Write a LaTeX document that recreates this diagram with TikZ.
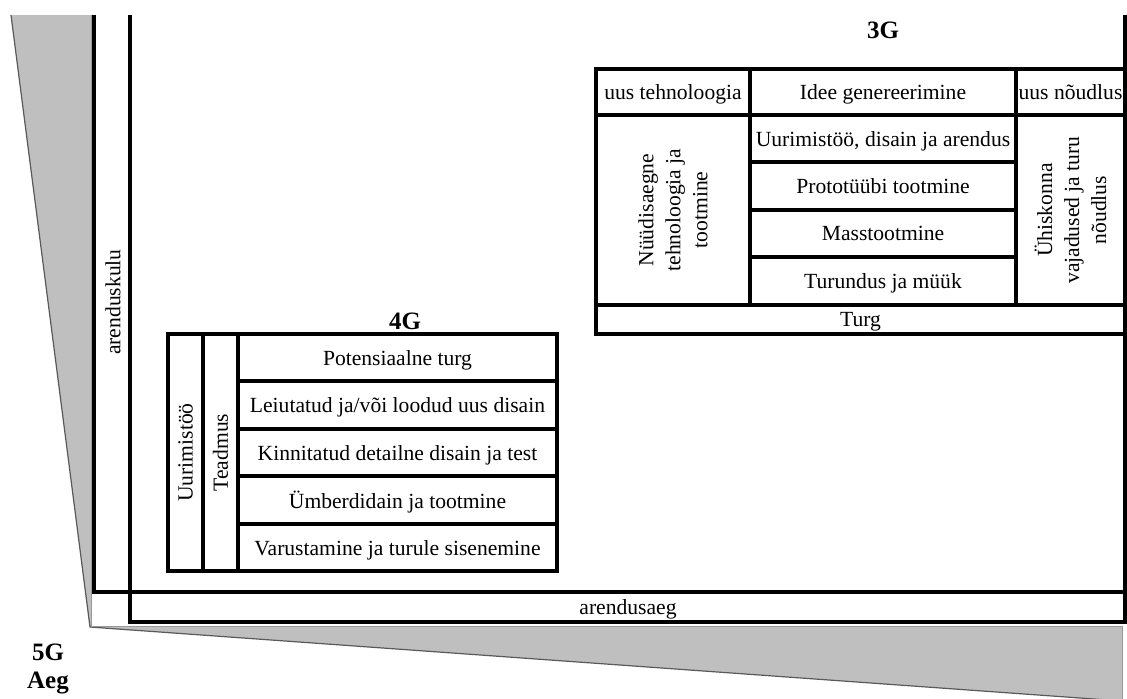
\documentclass[tikz,border=0pt]{standalone}
\usepackage{fontspec}
\setmainfont{Liberation Serif}

% a boxed cell given by its corners (x1,y1) and (x2,y2), text level
\newcommand\gridcell[6]{%
  \node[cellbox, text depth=0pt, minimum width={(#4-#2)*0.5pt}, minimum height={(#5-#3)*0.5pt}]
    (#1) at ({(#2+#4)/2},{(#3+#5)/2}) {#6};}
% the same, with the text turned to read upwards
\newcommand\gridvcell[6]{%
  \node[cellbox, rotate=90, minimum width={(#5-#3)*0.5pt}, minimum height={(#4-#2)*0.5pt}]
    (#1) at ({(#2+#4)/2},{(#3+#5)/2}) {#6};}

\begin{document}
\begin{tikzpicture}[x=0.5pt,y=-0.5pt,
  rule/.style={line width=2pt, line join=miter},
  cellbox/.style={draw, line width=2pt, inner sep=0pt, align=center,
    font=\fontsize{10.8}{13.5}\selectfont},
  gen/.style={inner sep=0pt, font=\fontsize{12.5}{14}\selectfont\bfseries},
  lbl/.style={inner sep=0pt, font=\fontsize{10.8}{13.5}\selectfont}]
\useasboundingbox (0,0) rectangle (1127,698);

% grey perspective wedges along the left and bottom sides
\fill[black!25] (11,15) -- (91,15) -- (91,626) -- (1122,626) -- (1122,701) -- (90,627) -- cycle;
\draw[black!65, line width=0.6pt] (11,15) -- (90,627) -- (1122,701);
\draw[black!40, line width=0.5pt] (91,15) -- (91,626) -- (1122,626) -- (1122,701);

% cost / time frame
\draw[rule] (94,15) -- (94,592) -- (1125,592);
\draw[rule] (130,15) -- (130,622) -- (1125,622) -- (1125,15);
\node[lbl, rotate=90] (kulu) at (113,302) {arenduskulu};
\node[lbl, text depth=0pt] (aegbar) at (628,607) {arendusaeg};

% generation labels
\node[gen] (g3) at (883,30) {3G};
\node[gen] (g4) at (405,321) {4G};
\node[gen] (g5) at (48,652) {5G};
\node[gen] (aeg) at (48,683) {Aeg};

% 3G model
\gridcell{tech}{596}{69}{750}{115}{uus tehnoloogia}
\gridcell{idee}{750}{69}{1016}{115}{Idee genereerimine}
\gridcell{noud}{1016}{69}{1125}{115}{uus nõudlus}
\gridvcell{nyyd}{596}{115}{750}{305}{Nüüdisaegne\\tehnoloogia ja\\tootmine}
\gridcell{uur}{750}{115}{1016}{162}{Uurimistöö, disain ja arendus}
\gridcell{proto}{750}{162}{1016}{210}{Prototüübi tootmine}
\gridcell{mass}{750}{210}{1016}{257}{Masstootmine}
\gridcell{turund}{750}{257}{1016}{305}{Turundus ja müük}
\gridvcell{yhis}{1016}{115}{1125}{305}{Ühiskonna\\vajadused ja turu\\nõudlus}
\gridcell{turg}{596}{305}{1125}{334}{Turg}

% 4G model
\gridvcell{uurim}{168}{334}{203}{571}{Uurimistöö}
\gridvcell{tead}{203}{334}{238}{571}{Teadmus}
\gridcell{pot}{238}{334}{557}{381}{Potensiaalne turg}
\gridcell{leiut}{238}{381}{557}{429}{Leiutatud ja/või loodud uus disain}
\gridcell{kinn}{238}{429}{557}{476}{Kinnitatud detailne disain ja test}
\gridcell{ymber}{238}{476}{557}{524}{Ümberdidain ja tootmine}
\gridcell{varu}{238}{524}{557}{571}{Varustamine ja turule sisenemine}
\end{tikzpicture}
\end{document}
